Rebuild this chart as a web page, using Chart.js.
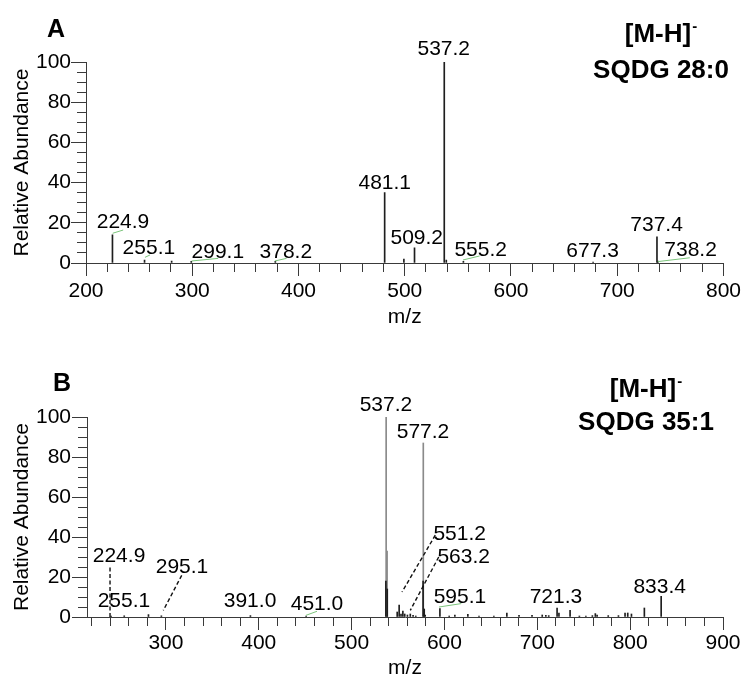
<!DOCTYPE html>
<html>
<head>
<meta charset="utf-8">
<script src="https://cdn.jsdelivr.net/npm/chart.js@4.4.0/dist/chart.umd.min.js"></script>
<style>
  html, body { margin: 0; padding: 0; background: #fff; }
  #wrap { position: relative; width: 744px; height: 678px; }
  #chartA { position: absolute; left: 0; top: 0; }
  #chartB { position: absolute; left: 0; top: 330px; }
</style>
</head>
<body>
<div id="wrap">
  <canvas id="chartA" width="744" height="330"></canvas>
  <canvas id="chartB" width="744" height="348"></canvas>
</div>
<script>
// ---- Panel A: [M-H]- SQDG 28:0 ----
const mzA    = [224.9, 255.1, 280.6, 299.1, 378.2, 481.1, 499.2, 509.2, 537.2, 539.1, 555.2, 677.3, 737.4, 738.2];
const abundA = [14,    1.5,   1,     0.8,   0.8,   35,    2,     7.5,   100,   1.5,   0.8,   0.4,   13,    1];
const peakTextA = ['224.9', '255.1', '299.1', '378.2', '481.1', '509.2', '537.2', '555.2', '677.3', '737.4', '738.2'];
const xMajorA = [200, 300, 400, 500, 600, 700, 800];

// ---- Panel B: [M-H]- SQDG 35:1 ----
const mzB = [241.0, 255.1, 281.2, 295.1, 391.0, 451.0, 537.2, 538.2, 536.9, 538.4,
             549.1, 551.2, 553.2, 555.2, 557.2, 560.1, 563.2, 566.2, 569.1, 577.2, 577.0, 578.2, 579.2,
             595.1, 605.1, 611.2, 625.2, 637.2, 653.2, 667.2, 680.3, 694.3, 705.3, 709.2, 712.3,
             721.3, 723.3, 735.3, 745.3, 752.3, 759.3, 762.5, 764.4, 776.4, 787.4, 794.5, 797.4,
             801.4, 815.3, 833.4];
const abundB = [0.5, 0.6, 1.2, 0.6, 0.7, 0.5, 100, 33, 18, 14,
                2.5, 6, 1.5, 3, 1.5, 1, 1.5, 0.8, 0.5, 87, 18, 4, 1,
                4.2, 0.5, 1, 1.3, 0.5, 0.5, 2, 0.8, 0.8, 1, 0.8, 0.7,
                4.5, 2, 3.3, 0.5, 0.5, 0.7, 1.7, 1, 0.7, 0.7, 2, 2,
                1.5, 4.5, 10.3];
const peakTextB = ['224.9', '255.1', '295.1', '391.0', '451.0', '537.2', '577.2', '551.2', '563.2', '595.1', '721.3', '833.4'];
const xMajorB = [300, 400, 500, 600, 700, 800, 900];

// label centres, in m/z / abundance units
const labelPosA = [[234.8, 20.9], [259.2, 8.0], [324.1, 6.0], [388.1, 6.0], [481.2, 40.3], [511.3, 13.4],
                   [536.7, 107], [571.5, 7.0], [676.8, 6.5], [737.0, 19.9], [769.0, 7.0]];
const labelPosB = [[249.5, 31.1], [254.8, 8.8], [317.3, 25.8], [390.6, 8.6], [462.7, 7.1], [537.0, 106.6],
                   [576.9, 93.4], [616.4, 42.1], [620.7, 30.6], [616.7, 10.6], [720.1, 10.6], [831.8, 15.9]];
// leader lines [m/z1, ab1, m/z2, ab2]
const greenLeadA = [[225.1, 14.8, 235, 16.4], [255.5, 2.8, 260.2, 4.0], [299.4, 1.0, 324.4, 2.3],
                    [377.7, 1.0, 388.7, 2.3], [554.8, 1.5, 570.5, 3.5], [738.2, 0.7, 768.3, 2.6]];
const dashLeadB = [[239.8, 24.8, 239.8, 0], [317, 20.8, 297.2, 3.3], [590.1, 40.9, 554.3, 12.5], [593.8, 30, 563.2, 3.3]];
const greenLeadB = [[450.9, 0.85, 462.7, 2.85], [594.1, 5, 618.1, 6.7]];

const FONT = "'Liberation Sans', Arial, sans-serif";
Chart.defaults.font.family = FONT;
Chart.defaults.color = '#000';
const axisColor = '#3a3a3a';

function xScale(min, max, majors, canvasH, plotBottom, labelPad, titlePad) {
  return {
    type: 'linear', min: min, max: max, offset: false,
    afterBuildTicks: s => {
      const t = [];
      for (let v = Math.ceil(min / 20) * 20; v <= max; v += 20) t.push({ value: v });
      s.ticks = t;
    },
    ticks: {
      autoSkip: false, maxRotation: 0, padding: labelPad, font: { size: 21 }, color: '#000',
      callback: v => majors.includes(v) ? String(v) : ''
    },
    grid: {
      drawOnChartArea: false, offset: false, tickLength: 13, color: axisColor,
      tickBorderDash: ctx => (ctx.tick && majors.includes(ctx.tick.value)) ? [] : [8, 100]
    },
    border: { color: axisColor },
    title: { display: true, text: 'm/z', color: '#000', font: { size: 21, lineHeight: 0.9 }, padding: { top: 0, bottom: titlePad } },
    afterFit: s => { s.height = canvasH - plotBottom; }
  };
}

function yScale(width, labelPad) {
  return {
    min: 0, max: 100,
    afterBuildTicks: s => {
      const t = [];
      for (let v = 0; v <= 100; v += 5) t.push({ value: v });
      s.ticks = t;
    },
    ticks: { autoSkip: false, padding: labelPad, font: { size: 21 }, color: '#000',
      callback: v => v % 20 === 0 ? String(v) : '' },
    grid: {
      drawOnChartArea: false, tickLength: 15, color: axisColor,
      tickBorderDash: ctx => (ctx.tick && ctx.tick.value % 20 === 0) ? [] : [0, 6, 9, 100]
    },
    border: { color: axisColor },
    title: { display: true, text: 'Relative Abundance', color: '#000', font: { size: 21 }, padding: { top: 10, bottom: 0 } },
    afterFit: s => { s.width = width; }
  };
}

function annotations(cfg) {
  return {
    id: 'annot' + cfg.letter,
    afterDraw(chart) {
      const { ctx } = chart;
      const x = chart.scales.x, y = chart.scales.y;
      const seg = (l) => {
        ctx.beginPath();
        ctx.moveTo(x.getPixelForValue(l[0]), y.getPixelForValue(l[1]));
        ctx.lineTo(x.getPixelForValue(l[2]), y.getPixelForValue(l[3]));
        ctx.stroke();
      };
      ctx.save();
      ctx.strokeStyle = '#7cc47c';
      ctx.lineWidth = 1;
      cfg.green.forEach(seg);
      ctx.strokeStyle = '#111';
      ctx.lineWidth = 1.4;
      ctx.setLineDash([4, 2.5]);
      cfg.dashed.forEach(seg);
      ctx.setLineDash([]);

      ctx.fillStyle = '#000';
      ctx.font = '21px ' + FONT;
      ctx.textAlign = 'center';
      cfg.text.forEach((t, i) => {
        const p = cfg.pos[i];
        ctx.fillText(t, x.getPixelForValue(p[0]), y.getPixelForValue(p[1]) + 7.5);
      });

      // panel letter and ion title
      ctx.font = 'bold 25px ' + FONT;
      ctx.textAlign = 'left';
      ctx.fillText(cfg.letter, cfg.letterX, cfg.letterY);
      ctx.font = 'bold 26px ' + FONT;
      const w1 = ctx.measureText('[M-H]').width;
      ctx.font = 'bold 15px ' + FONT;
      const w2 = ctx.measureText('-').width;
      const start = cfg.ionX - (w1 + w2 + 1) / 2;
      ctx.font = 'bold 26px ' + FONT;
      ctx.fillText('[M-H]', start, cfg.ionY);
      ctx.font = 'bold 15px ' + FONT;
      ctx.fillText('-', start + w1 + 1, cfg.ionY - 11);
      ctx.font = 'bold 26px ' + FONT;
      ctx.textAlign = 'center';
      ctx.fillText(cfg.species, cfg.ionX, cfg.speciesY);
      ctx.restore();
    }
  };
}

function makeChart(id, mz, abund, opts) {
  return new Chart(document.getElementById(id), {
    type: 'bar',
    data: {
      datasets: [{
        data: mz.map((m, i) => ({ x: m, y: abund[i] })),
        backgroundColor: ctx => (opts.fadeTall && ctx.raw && ctx.raw.y > 30) ? '#8a8a8a' : '#1e1e1e',
        barThickness: 1,
        borderWidth: 0
      }]
    },
    options: {
      responsive: false,
      animation: false,
      events: [],
      layout: { padding: { top: opts.top, right: opts.right, left: 0, bottom: 0 } },
      plugins: { legend: { display: false }, tooltip: { enabled: false } },
      scales: { x: opts.x, y: opts.y }
    },
    plugins: [opts.annot]
  });
}

makeChart('chartA', mzA, abundA, {
  top: 62, right: 20, fadeTall: false,
  x: xScale(200, 800, xMajorA, 330, 263, 3, 3.5),
  y: yScale(86, 0),
  annot: annotations({
    letter: 'A', letterX: 47, letterY: 37,
    ionX: 661, ionY: 42, species: 'SQDG 28:0', speciesY: 78,
    text: peakTextA, pos: labelPosA, green: greenLeadA, dashed: []
  })
});

makeChart('chartB', mzB, abundB, {
  top: 87, right: 21, fadeTall: true,
  x: xScale(215, 900, xMajorB, 348, 287, 1, 0),
  y: yScale(87, 1),
  annot: annotations({
    letter: 'B', letterX: 53, letterY: 61,
    ionX: 646, ionY: 67, species: 'SQDG 35:1', speciesY: 100,
    text: peakTextB, pos: labelPosB, green: greenLeadB, dashed: dashLeadB
  })
});
</script>
</body>
</html>
